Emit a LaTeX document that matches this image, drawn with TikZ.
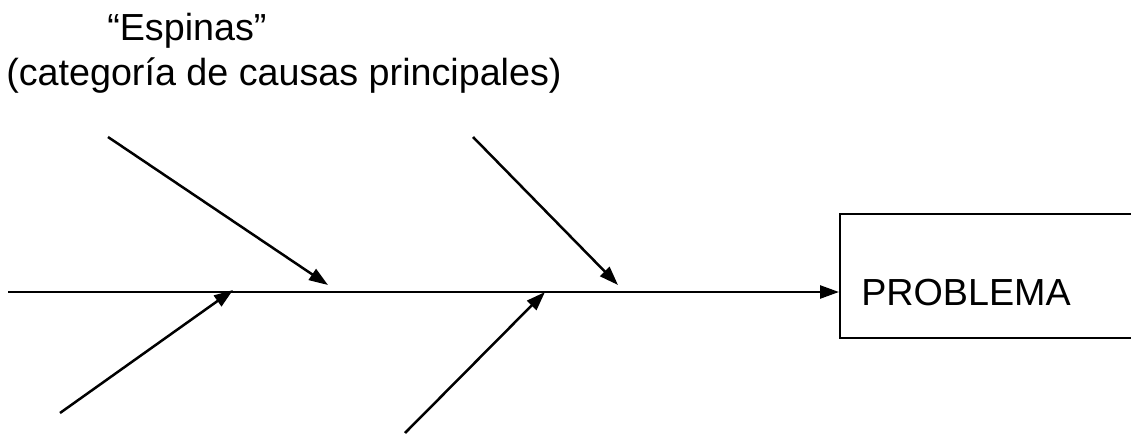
\documentclass[tikz,border=0pt]{standalone}
\usepackage{fontspec}
\setmainfont{Liberation Sans}
\usetikzlibrary{arrows.meta,positioning}

\tikzset{
  bone/.style={-{Triangle[length=19pt,width=13pt]}},
  caption/.style={inner sep=0pt, anchor=base west, font=\fontsize{37.7}{43}\selectfont}
}

\begin{document}
\begin{tikzpicture}[x=1pt,y=-1pt,line width=2.5pt]
    \useasboundingbox (0,0) rectangle (1131,436);

        % titulo
        \node[caption] (espinas) at (106,41) {“Espinas”};
        \node[caption] (categ) at (5,85) {(categoría de causas principales)};

        % cabeza
        \node[draw, line width=2pt, minimum width=340pt, minimum height=124pt, anchor=north west] (box) at (839,213) {};
        \node[caption] (problema) at (860,305) {PROBLEMA};

        % espina central
        \coordinate (tail) at (8,292);
        \draw[bone] (tail) -- (tail -| box.west);

        % espinas
        \coordinate (a1) at (108,137);  \coordinate (b1) at (328,285);
        \coordinate (a2) at (473,137);  \coordinate (b2) at (618,285);
        \coordinate (a3) at (60,413);   \coordinate (b3) at (233,290);
        \coordinate (a4) at (405,433);  \coordinate (b4) at (545,292);
        \foreach \i in {1,...,4}
            \draw[bone] (a\i) -- (b\i);

    \end{tikzpicture}
\end{document}
